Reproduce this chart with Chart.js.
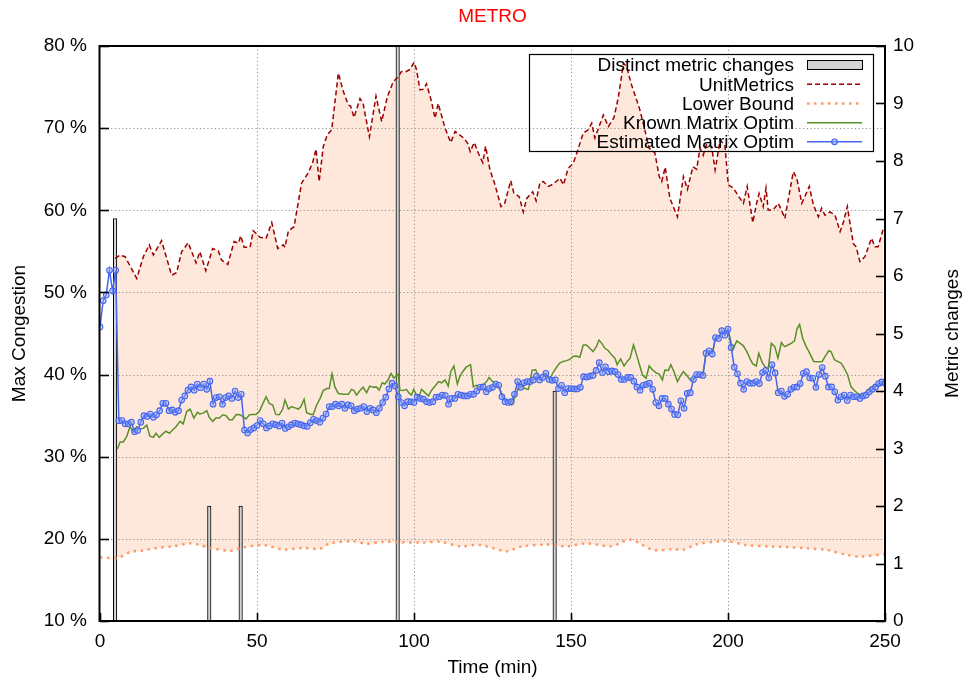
<!DOCTYPE html>
<html>
<head>
<meta charset="utf-8">
<title>METRO</title>
<script src="https://cdn.jsdelivr.net/npm/chart.js@4.4.1/dist/chart.umd.min.js"></script>
<style>
  html, body { margin: 0; padding: 0; background: #fff; }
  canvas { display: block; }
</style>
</head>
<body>
<canvas id="cv" width="963" height="683"></canvas>
<script>
// Distinct metric changes (right axis)
const changeT = [4.8, 34.8, 44.8, 94.8, 144.8]
const changeV = [7, 2, 2, 10, 4]

// UnitMetrics (left axis, %)
const umT = [4.8, 6.4, 8.0, 11.7, 13.8, 15.7, 17.0, 19.6, 22.8, 24.4, 26.0, 28.1, 30.6, 31.8, 33.7, 35.9, 37.7, 38.7, 40.7, 42.7,
	44.1, 44.8, 45.9, 47.8, 48.8, 51.0, 52.9, 54.7, 56.6, 58.4, 58.9, 60.0, 61.8, 64.2, 66.3, 67.7, 68.8, 69.8, 71.1, 72.4,
	73.8, 75.9, 77.5, 79.1, 79.8, 80.9, 82.8, 83.8, 85.8, 87.9, 89.7, 91.5, 93.4, 95.0, 96.0, 97.6, 98.7, 100.0, 100.8, 101.9,
	103.0, 104.0, 105.6, 106.7, 107.7, 109.9, 111.7, 113.1, 115.8, 117.1, 117.9, 119.2, 120.5, 121.9, 122.8, 124.2, 125.8, 127.7, 128.9, 130.8,
	131.8, 133.5, 134.8, 135.9, 137.8, 138.9, 140.1, 141.2, 142.8, 144.4, 146.5, 147.6, 149.1, 150.7, 152.0, 153.9, 155.5, 156.6, 157.6, 160.3,
	161.9, 163.7, 165.1, 166.7, 167.7, 169.3, 171.8, 173.0, 174.9, 176.7, 178.1, 178.9, 180.0, 181.5, 183.9, 185.8, 187.1, 188.8, 190.0, 191.1,
	192.1, 193.2, 194.8, 195.9, 197.5, 199.0, 200.1, 201.7, 203.8, 204.9, 206.1, 207.9, 209.1, 209.9, 211.2, 212.1, 212.8, 214.4, 216.0, 217.0,
	218.1, 220.8, 221.9, 223.5, 225.9, 227.2, 228.8, 229.8, 230.9, 232.5, 234.1, 235.7, 236.8, 238.0, 239.9, 240.8, 242.0, 243.6, 245.7, 246.8,
	247.8, 249.5]
const umV = [54.15, 54.55, 54.35, 51.7, 54.35, 55.8, 54.55, 56.3, 52.1, 52.4, 54.95, 56.05, 53.6, 54.95, 52.65, 55.35, 55.05, 53.95, 53.4, 56.2,
	56.0, 56.9, 55.5, 55.5, 57.5, 56.7, 56.6, 58.5, 55.35, 55.8, 55.5, 57.5, 58.0, 63.3, 64.55, 65.75, 67.45, 63.5, 67.75, 69.2,
	69.8, 76.7, 74.45, 72.8, 72.7, 71.3, 73.6, 73.0, 68.95, 73.9, 70.8, 73.8, 75.65, 76.25, 76.9, 76.9, 77.15, 78.0, 77.15, 74.65,
	74.75, 75.4, 73.2, 71.2, 73.0, 70.0, 68.25, 69.6, 68.8, 68.15, 67.15, 68.25, 66.95, 65.8, 67.8, 64.9, 63.1, 60.45, 60.85, 63.6,
	62.1, 61.65, 59.8, 61.45, 62.25, 61.15, 63.35, 63.5, 62.9, 63.2, 63.9, 63.1, 65.1, 65.7, 67.15, 69.4, 69.8, 70.6, 68.8, 71.6,
	70.2, 71.3, 73.8, 77.9, 77.5, 75.25, 72.4, 70.6, 67.55, 67.0, 64.1, 63.5, 65.25, 61.45, 59.2, 64.1, 62.55, 65.3, 65.0, 67.55,
	66.7, 68.1, 67.75, 64.9, 68.55, 67.95, 63.1, 62.7, 61.45, 60.85, 62.9, 58.5, 60.85, 62.05, 60.45, 62.7, 60.05, 60.05, 60.85, 60.05,
	59.0, 64.7, 63.9, 60.85, 62.9, 60.65, 59.2, 60.25, 59.4, 59.8, 59.4, 57.4, 58.6, 60.45, 55.95, 55.55, 53.75, 54.35, 56.6, 55.55,
	55.55, 57.8]

// Lower Bound (left axis, %)
const lbT = [0, 5.7, 9.6, 13.8, 18, 23.3, 28.7, 31.8, 35, 41.4, 45.6, 52, 58.4, 64.7, 70, 73.2, 80.7, 84.9, 90.2, 94.5,
	103, 108.3, 114.6, 121, 129.5, 133.8, 142.2, 148.6, 155, 163, 168.8, 176.2, 182.6, 185.8, 190, 197.5, 199.6, 205.9, 214.4, 218.8,
	225.1, 231.4, 237.8, 242, 250]
const lbV = [17.75, 17.7, 18.4, 18.6, 18.9, 19.1, 19.45, 19.25, 18.9, 18.55, 18.95, 19.25, 18.7, 18.9, 18.8, 19.45, 19.7, 19.4, 19.65, 19.6,
	19.55, 19.65, 19.1, 19.25, 18.5, 19.05, 19.3, 19.1, 19.45, 19.1, 19.9, 18.65, 18.75, 18.65, 19.35, 19.7, 19.75, 19.25, 19.05, 19.0,
	18.85, 18.65, 18.05, 17.85, 18.15]

// Known Matrix Optim (left axis, %)
const knownT = [5.5, 6.4, 7.4, 8.5, 9.55, 10.6, 11.7, 12.7, 13.8, 14.9, 15.9, 17.0, 17.8, 18.9, 19.9, 21.0, 22.1, 23.1, 24.2, 25.5,
	26.5, 27.6, 28.7, 29.9, 31.0, 31.8, 32.9, 34.0, 34.8, 35.9, 36.9, 38.0, 39.1, 40.1, 41.2, 42.2, 43.3, 44.4, 45.4, 46.5,
	47.6, 48.6, 49.7, 50.7, 51.8, 52.9, 53.9, 55.0, 56.0, 57.1, 58.2, 58.9, 60.0, 61.0, 62.1, 63.2, 64.0, 65.0, 65.8, 66.9,
	67.9, 69.0, 70.1, 71.1, 72.2, 73.0, 73.9, 74.8, 75.9, 77.5, 79.1, 80.1, 80.9, 81.7, 82.8, 83.8, 84.9, 85.9, 87.0, 88.0,
	88.9, 89.9, 90.7, 91.8, 92.7, 93.6, 94.5, 95.0, 95.5, 96.6, 97.6, 98.5, 99.2, 99.9, 100.8, 101.7, 102.4, 103.5, 104.6, 105.6,
	106.7, 107.8, 108.8, 109.9, 110.9, 111.7, 112.7, 113.8, 114.6, 115.5, 116.6, 118.0, 118.9, 119.9, 121.0, 122.0, 123.1, 123.9, 125.0, 125.7,
	126.8, 127.9, 128.9, 130.0, 131.1, 132.2, 133.2, 134.3, 135.3, 136.4, 136.9, 137.6, 138.7, 139.5, 140.6, 141.7, 142.5, 143.2, 144.3, 145.4,
	146.4, 147.5, 148.6, 149.6, 150.7, 151.7, 152.8, 153.9, 154.9, 156.0, 157.0, 158.1, 158.9, 159.8, 160.8, 161.9, 162.9, 164.0, 164.7, 165.8,
	166.9, 167.9, 168.8, 169.9, 170.9, 171.8, 172.8, 173.9, 174.9, 176.0, 177.1, 178.1, 179.1, 179.9, 181.0, 181.8, 182.8, 183.9, 184.7, 185.8,
	186.8, 187.9, 188.5, 190.0, 191.0, 192.0, 193.0, 194.0, 195.0, 196.0, 197.0, 198.0, 199.0, 200.0, 201.5, 202.8, 203.9, 204.9, 206.0, 207.1,
	207.9, 209.0, 209.8, 210.9, 211.7, 212.8, 213.8, 214.9, 215.9, 217.0, 218.0, 219.1, 220.1, 221.2, 222.0, 222.8, 223.8, 224.9, 226.0, 227.3,
	228.6, 230.0, 231.0, 232.1, 232.8, 233.9, 234.9, 236.0, 237.0, 238.1, 239.2, 240.2, 241.3, 242.3, 243.4, 244.5, 245.6, 246.6, 247.7, 248.7,
	249.8]
const knownV = [30.9, 31.8, 31.8, 32.45, 33.65, 33.05, 33.65, 33.4, 33.45, 33.85, 32.5, 32.35, 32.85, 32.35, 32.75, 33.1, 32.85, 33.25, 33.65, 34.3,
	34.0, 35.5, 35.8, 34.7, 35.4, 35.2, 35.3, 35.6, 34.8, 34.3, 34.7, 34.7, 35.1, 35.0, 34.5, 34.5, 35.1, 35.15, 34.9, 34.6,
	35.1, 35.15, 35.15, 35.5, 36.4, 37.3, 36.5, 36.3, 35.15, 35.1, 35.8, 36.9, 35.8, 36.1, 35.95, 35.8, 36.1, 37.0, 35.35, 35.2,
	35.1, 36.3, 37.1, 38.05, 38.3, 38.3, 40.1, 38.5, 37.7, 37.6, 37.6, 38.2, 38.05, 37.5, 38.05, 38.45, 37.8, 38.6, 38.45, 38.5,
	38.1, 39.0, 38.85, 39.4, 40.15, 39.55, 39.95, 40.05, 38.1, 38.05, 38.2, 37.7, 37.5, 38.2, 37.5, 37.4, 38.2, 37.8, 37.4, 38.1,
	38.6, 39.15, 39.0, 39.35, 38.6, 40.35, 41.05, 38.85, 39.75, 40.35, 40.9, 41.2, 38.5, 38.7, 38.45, 38.7, 39.15, 39.65, 39.15, 38.95,
	38.7, 37.7, 37.1, 36.6, 36.3, 37.3, 38.3, 38.6, 38.3, 38.2, 38.95, 40.5, 40.6, 39.95, 39.35, 40.15, 39.95, 39.45, 40.25, 40.9,
	41.4, 41.6, 41.7, 41.85, 42.2, 42.25, 42.1, 43.6, 43.6, 43.2, 42.8, 43.4, 44.2, 43.8, 43.2, 42.9, 42.4, 42.0, 41.2, 41.9,
	41.05, 41.6, 42.0, 43.6, 42.4, 41.2, 39.95, 39.55, 41.05, 40.55, 40.2, 40.05, 39.35, 40.55, 40.5, 41.2, 40.35, 39.15, 39.75, 40.35,
	39.95, 39.35, 39.3, 40.0, 40.0, 39.9, 42.6, 42.9, 42.5, 44.5, 44.4, 45.35, 44.8, 45.55, 43.0, 44.1, 43.8, 43.5, 42.8, 41.85,
	41.3, 41.05, 42.6, 41.45, 41.0, 40.65, 43.8, 43.4, 42.0, 43.9, 43.4, 43.6, 43.8, 44.1, 45.6, 46.1, 44.4, 43.4, 42.6, 41.6,
	41.55, 41.6, 42.25, 42.9, 42.8, 41.8, 41.6, 41.4, 40.8, 39.95, 38.5, 38.1, 37.7, 37.5, 37.7, 38.1, 38.45, 38.7, 38.6, 38.7,
	38.95]

// Estimated Matrix Optim (left axis, %), one value per minute starting at 0
const estV = [45.8, 49.0, 49.7, 52.7, 50.2, 52.7, 34.4, 34.4, 34.0, 34.0,
	34.2, 33.05, 33.2, 34.2, 35.0, 34.9, 35.2, 34.8, 35.1, 35.6,
	36.5, 36.5, 35.6, 35.7, 35.4, 35.6, 36.9, 37.4, 38.1, 38.5,
	38.1, 38.85, 38.4, 38.85, 38.2, 39.2, 36.4, 37.2, 37.3, 36.4,
	37.2, 37.4, 37.1, 38.0, 37.2, 37.6, 33.25, 32.9, 33.3, 33.5,
	33.8, 34.4, 34.0, 33.5, 33.75, 34.0, 33.9, 33.75, 34.1, 33.45,
	33.65, 33.9, 34.1, 34.0, 33.9, 33.75, 33.7, 34.15, 34.55, 34.4,
	34.2, 34.7, 35.2, 36.1, 36.1, 36.4, 36.2, 36.4, 35.9, 36.3,
	36.2, 35.6, 35.8, 35.9, 36.1, 35.5, 35.9, 35.7, 35.35, 35.9,
	36.6, 37.25, 38.25, 38.95, 38.6, 37.3, 36.6, 36.2, 36.7, 36.7,
	36.6, 37.25, 37.1, 37.0, 36.7, 36.6, 36.7, 37.25, 37.3, 37.5,
	37.45, 36.4, 37.1, 37.1, 37.6, 37.5, 37.4, 37.4, 37.6, 37.6,
	38.0, 38.45, 38.5, 37.9, 38.3, 38.45, 38.85, 38.7, 37.3, 36.7,
	36.6, 36.7, 37.6, 39.15, 38.45, 39.0, 39.15, 39.15, 39.35, 39.8,
	39.35, 39.65, 40.15, 39.4, 39.3, 39.35, 38.3, 38.7, 37.8, 38.3,
	38.3, 38.25, 38.25, 38.45, 39.75, 39.7, 39.8, 39.9, 40.5, 41.45,
	40.25, 40.95, 40.35, 40.45, 40.35, 40.0, 39.4, 39.4, 39.65, 39.65,
	39.2, 38.5, 38.1, 38.7, 38.8, 38.95, 38.2, 36.6, 36.2, 37.1,
	37.1, 36.4, 35.8, 35.15, 35.1, 36.8, 35.9, 37.7, 37.8, 39.4,
	40.0, 40.0, 39.9, 42.6, 42.9, 42.5, 44.5, 44.4, 45.35, 44.8,
	45.55, 43.3, 40.9, 40.1, 38.95, 38.2, 39.15, 38.95, 38.95, 39.15,
	38.9, 40.25, 40.5, 39.6, 41.2, 40.2, 37.8, 38.0, 37.35, 37.6,
	38.2, 38.45, 38.5, 38.9, 40.15, 40.35, 39.6, 39.55, 38.45, 40.0,
	40.85, 39.8, 38.5, 38.5, 37.9, 36.9, 37.3, 37.5, 36.85, 37.5,
	37.3, 37.3, 37.1, 37.4, 37.5, 37.9, 38.2, 38.5, 38.9, 39.1,
	38.95]

const FONT = "'Liberation Sans', Arial, sans-serif"
const UM_COLOR = '#9c0000'
const LB_COLOR = '#ff9a66'
const KNOWN_COLOR = '#5a9028'
const EST_COLOR = '#4466ee'
const BAR_FILL = '#d4d4d4'
const LB_DASH = [2.5, 4.5]

const pairs = (ts, vs) => ts.map((t, i) => ({ x: t, y: vs[i] }))

Chart.defaults.font.family = FONT
Chart.defaults.font.size = 19
Chart.defaults.color = '#000'

// gnuplot look: dotted grid, inward ticks, frame, title, legend box
const gnuplotLook = {
	id: 'gnuplotLook',
	beforeDatasetsDraw(chart) {
		const { ctx, chartArea: a, scales } = chart
		ctx.save()
		ctx.strokeStyle = '#9a9a9a'
		ctx.lineWidth = 1
		ctx.setLineDash([1.3, 2.4])
		scales.x.ticks.forEach((t) => {
			if (t.value <= scales.x.min || t.value >= scales.x.max) return
			const px = Math.round(scales.x.getPixelForValue(t.value)) + 0.5
			ctx.beginPath(); ctx.moveTo(px, a.top); ctx.lineTo(px, a.bottom); ctx.stroke()
		})
		scales.y.ticks.forEach((t) => {
			if (t.value <= scales.y.min || t.value >= scales.y.max) return
			const py = Math.round(scales.y.getPixelForValue(t.value)) + 0.5
			ctx.beginPath(); ctx.moveTo(a.left, py); ctx.lineTo(a.right, py); ctx.stroke()
		})
		ctx.restore()
	},
	afterDatasetsDraw(chart) {
		const { ctx, chartArea: a, scales } = chart
		ctx.save()
		ctx.strokeStyle = '#000'
		ctx.lineWidth = 1.6
		scales.y.ticks.forEach((t) => {
			const py = Math.round(scales.y.getPixelForValue(t.value)) + 0.5
			ctx.beginPath(); ctx.moveTo(a.left, py); ctx.lineTo(a.left + 9, py); ctx.stroke()
		})
		scales.y2.ticks.forEach((t) => {
			const py = Math.round(scales.y2.getPixelForValue(t.value)) + 0.5
			ctx.beginPath(); ctx.moveTo(a.right, py); ctx.lineTo(a.right - 9, py); ctx.stroke()
		})
		scales.x.ticks.forEach((t) => {
			const px = Math.round(scales.x.getPixelForValue(t.value)) + 0.5
			ctx.beginPath(); ctx.moveTo(px, a.bottom); ctx.lineTo(px, a.bottom - 8); ctx.stroke()
		})
		ctx.lineWidth = 2
		ctx.strokeRect(a.left - 0.5, a.top, a.right - a.left + 0.5, a.bottom - a.top)
		ctx.restore()
	},
	afterDraw(chart) {
		const { ctx, chartArea: a } = chart
		ctx.save()
		ctx.font = '19px ' + FONT

		// title
		ctx.fillStyle = '#ff0000'
		ctx.textAlign = 'center'
		ctx.textBaseline = 'middle'
		ctx.fillText('METRO', (a.left + a.right) / 2, 17)

		// right axis title, reading bottom to top
		ctx.fillStyle = '#000'
		ctx.save()
		ctx.translate(958, (a.top + a.bottom) / 2)
		ctx.rotate(-Math.PI / 2)
		ctx.textBaseline = 'alphabetic'
		ctx.fillText('Metric changes', 0, 0)
		ctx.restore()

		// legend
		const box = { l: 529.5, t: 54.5, r: 873.5, b: 151.5 }
		ctx.strokeStyle = '#000'
		ctx.lineWidth = 1.2
		ctx.strokeRect(box.l, box.t, box.r - box.l, box.b - box.t)
		const rows = [65, 84.3, 103.5, 122.7, 141.8]
		const labels = ['Distinct metric changes', 'UnitMetrics', 'Lower Bound', 'Known Matrix Optim', 'Estimated Matrix Optim']
		ctx.textAlign = 'right'
		ctx.textBaseline = 'middle'
		labels.forEach((s, i) => ctx.fillText(s, 794, rows[i] + 1))
		const sx0 = 807
		const sx1 = 862
		// bar sample
		ctx.fillStyle = BAR_FILL
		ctx.fillRect(sx0, rows[0] - 5, sx1 - sx0, 10)
		ctx.strokeStyle = '#000'
		ctx.lineWidth = 1
		ctx.strokeRect(sx0 + 0.5, rows[0] - 4.5, sx1 - sx0, 9)
		const sample = (y, color, width, dash) => {
			ctx.strokeStyle = color
			ctx.lineWidth = width
			ctx.setLineDash(dash)
			ctx.beginPath(); ctx.moveTo(sx0, y); ctx.lineTo(sx1, y); ctx.stroke()
		}
		sample(rows[1], UM_COLOR, 1.5, [5, 3])
		sample(rows[2], LB_COLOR, 2.5, LB_DASH)
		sample(rows[3], KNOWN_COLOR, 1.5, [])
		sample(rows[4], EST_COLOR, 1.5, [])
		ctx.setLineDash([])
		ctx.beginPath()
		ctx.arc((sx0 + sx1) / 2, rows[4], 2.8, 0, Math.PI * 2)
		ctx.fillStyle = 'rgba(150,170,255,0.6)'
		ctx.fill()
		ctx.lineWidth = 1.2
		ctx.stroke()
		ctx.restore()
	}
}

new Chart(document.getElementById('cv'), {
	type: 'line',
	data: {
		datasets: [
			{
				type: 'bar',
				label: 'Distinct metric changes',
				data: pairs(changeT, changeV),
				yAxisID: 'y2',
				backgroundColor: BAR_FILL,
				borderColor: '#000',
				borderWidth: 1,
				borderSkipped: 'bottom',
				barThickness: 3.5,
				grouped: false,
				order: 4
			},
			{
				label: 'UnitMetrics',
				data: pairs(umT, umV),
				yAxisID: 'y',
				borderColor: UM_COLOR,
				borderWidth: 1.5,
				borderDash: [5, 3],
				pointRadius: 0,
				tension: 0,
				fill: { target: '+1', above: 'rgba(252,200,170,0.42)', below: 'rgba(252,200,170,0.42)' },
				order: 3
			},
			{
				label: 'Lower Bound',
				data: pairs(lbT, lbV),
				yAxisID: 'y',
				borderColor: LB_COLOR,
				borderWidth: 2.5,
				borderDash: LB_DASH,
				borderCapStyle: 'butt',
				pointRadius: 0,
				tension: 0.3,
				fill: false,
				order: 2
			},
			{
				label: 'Known Matrix Optim',
				data: pairs(knownT, knownV),
				yAxisID: 'y',
				borderColor: KNOWN_COLOR,
				borderWidth: 1.5,
				pointRadius: 0,
				tension: 0,
				fill: false,
				order: 1
			},
			{
				label: 'Estimated Matrix Optim',
				data: estV.map((v, i) => ({ x: i, y: v })),
				yAxisID: 'y',
				borderColor: EST_COLOR,
				borderWidth: 1.5,
				pointRadius: 2.8,
				pointBorderWidth: 1.1,
				pointBorderColor: EST_COLOR,
				pointBackgroundColor: 'rgba(150,170,255,0.45)',
				tension: 0,
				fill: false,
				order: 0
			}
		]
	},
	options: {
		responsive: false,
		animation: false,
		devicePixelRatio: 1,
		layout: { padding: { top: 46, left: 0, right: 0, bottom: 0 } },
		plugins: {
			legend: { display: false },
			tooltip: { enabled: false },
			title: { display: false },
			filler: { drawTime: 'beforeDatasetsDraw' }
		},
		scales: {
			x: {
				type: 'linear',
				min: 0,
				max: 250,
				offset: false,
				grid: { display: false, drawTicks: false },
				border: { display: false },
				ticks: { stepSize: 50, padding: 9, font: { size: 19, lineHeight: 1.2 } },
				title: { display: true, text: 'Time (min)', font: { size: 19, lineHeight: 1 }, padding: { top: 0, bottom: 5.5 } },
				afterFit: (s) => { s.height = 62 }
			},
			y: {
				position: 'left',
				min: 10,
				max: 80,
				grid: { display: false, drawTicks: false },
				border: { display: false },
				ticks: { stepSize: 10, padding: 13, callback: (v) => v + ' %' },
				title: { display: true, text: 'Max Congestion', font: { size: 19, lineHeight: 1 }, padding: { top: 10.5, bottom: 0 } },
				afterFit: (s) => { s.width = 100 }
			},
			y2: {
				position: 'right',
				min: 0,
				max: 10,
				grid: { display: false, drawTicks: false },
				border: { display: false },
				ticks: { stepSize: 1, padding: 8 },
				afterFit: (s) => { s.width = 78 }
			}
		}
	},
	plugins: [gnuplotLook]
})
</script>
</body>
</html>
